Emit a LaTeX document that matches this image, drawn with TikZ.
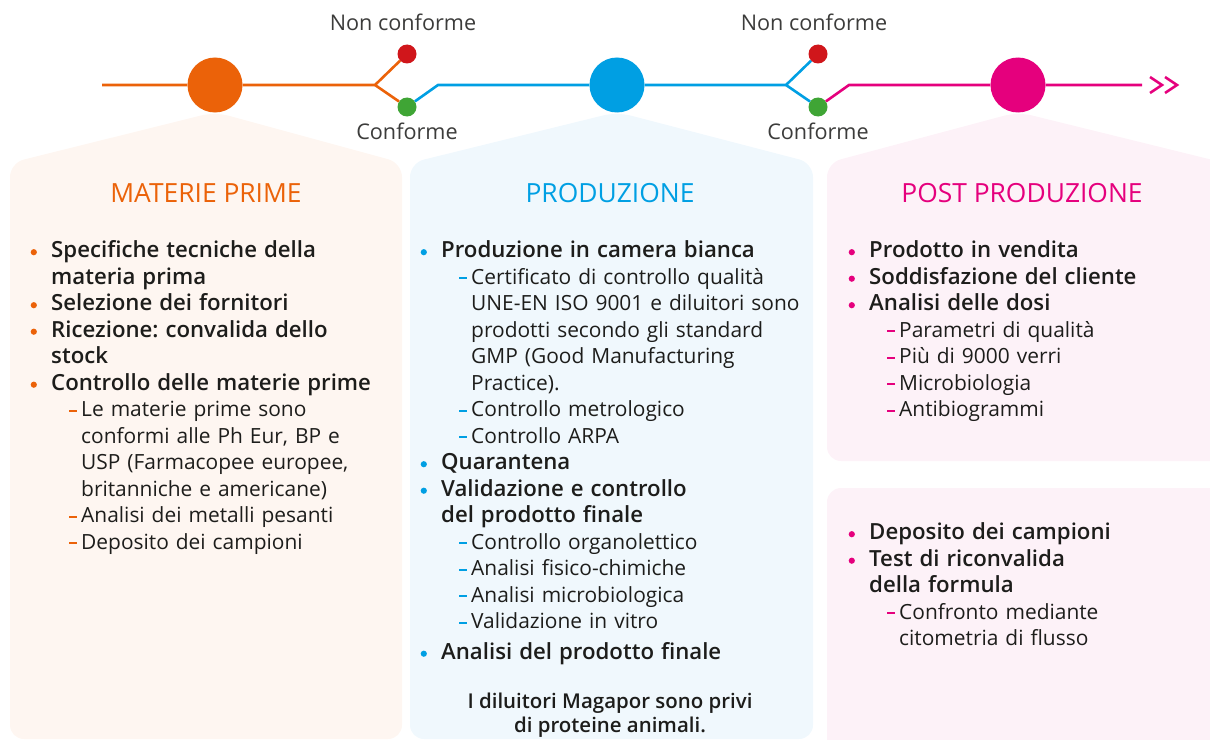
\documentclass[tikz,border=0pt]{standalone}
\usepackage{fontspec}
\setmainfont{Open Sans}
\IfFontExistsTF{Open Sans SemiBold}{\newfontfamily\semib{Open Sans SemiBold}}{%
  \IfFontExistsTF{Open Sans Semibold}{\newfontfamily\semib{Open Sans Semibold}}{\newcommand{\semib}{\bfseries}}}
\usetikzlibrary{positioning}
\frenchspacing
\definecolor{orangeMP}{HTML}{EB6209}
\definecolor{bluePR}{HTML}{009FE3}
\definecolor{pinkPP}{HTML}{E5007D}
\definecolor{redKO}{HTML}{D0161B}
\definecolor{greenOK}{HTML}{3FA535}
\definecolor{bgMP}{HTML}{FEF6F1}
\definecolor{bgPR}{HTML}{F0F8FD}
\definecolor{bgPP}{HTML}{FDF2F8}
\definecolor{txt}{HTML}{1D1D1B}
\definecolor{lbltxt}{HTML}{3C3C3B}
% bullet item and dash item
\newcommand{\bulitm}[2]{\par\noindent\hangindent=21bp\hangafter=1\makebox[21bp][l]{\hspace*{0.5bp}\tikz[baseline=0]\fill[#1] (3bp,5.5bp) circle (3.1bp);}{\fontsize{22.3}{26.6}\selectfont\semib#2}}
\newcommand{\subitm}[2]{\par\noindent\hangindent=51bp\hangafter=1\hspace*{39bp}\makebox[12bp][l]{\textcolor{#1}{\rule[5.2bp]{8bp}{2bp}}}#2}
% panel with a roof under the stage circle
\newcommand{\drawpanel}[5]{\fill[#1, rounded corners=14bp] (#2,#5) -- (#2,163) -- (#3,112) -- (#4,163) -- (#4,#5) -- cycle;}
\tikzset{
  stage/.style={circle, fill=#1, inner sep=0, minimum size=55bp},
  dot/.style={circle, fill=#1, inner sep=0, minimum size=19bp},
  line/.style={draw=#1, line width=2.6bp},
  lbl/.style={inner sep=0, text=lbltxt, font=\fontsize{21.7}{25}\selectfont},
  title/.style={inner sep=0, text=#1, font=\fontsize{26.5}{30}\selectfont},
  list/.style={anchor=north west, inner sep=0, text width=#1, align=left, text=txt, font=\fontsize{21}{26.6}\selectfont}
}
\begin{document}
\begin{tikzpicture}[x=1bp, y=-1bp]
\useasboundingbox (0,0) rectangle (1210,740);

% panels
\drawpanel{bgMP}{10}{215}{402}{739}
\drawpanel{bgPR}{410}{617}{813}{739}
\drawpanel{bgPP}{827}{1018}{1225}{461}
\fill[bgPP, rounded corners=14bp] (827,488) rectangle (1225,760);

% timeline
\node[stage=orangeMP] (m1) at (215,85) {};
\node[stage=bluePR] (m2) at (617,85) {};
\node[stage=pinkPP] (m3) at (1018,85) {};
\node[dot=redKO] (ko1) at (407,54) {};
\node[dot=greenOK] (ok1) at (407,107) {};
\node[dot=redKO] (ko2) at (818,54) {};
\node[dot=greenOK] (ok2) at (818,107) {};
\coordinate (start) at (102,85);
\coordinate (fork1) at (375,85);
\coordinate (bend1) at (438,85);
\coordinate (fork2) at (786,85);
\coordinate (bend2) at (849,85);
\coordinate (end) at (1142,85);

\draw[line=orangeMP] (start) -- (m1) -- (fork1) -- (ko1);
\draw[line=orangeMP] (fork1) -- (ok1);
\draw[line=bluePR] (ok1) -- (bend1) -- (m2) -- (fork2) -- (ko2);
\draw[line=bluePR] (fork2) -- (ok2);
\draw[line=pinkPP] (ok2) -- (bend2) -- (m3) -- (end);
\draw[line=pinkPP] (1150,77) -- (1162,85) -- (1150,93);
\draw[line=pinkPP] (1165,77) -- (1177,85) -- (1165,93);

\node[lbl, above=13bp of ko1, xshift=-4bp] (nc1) {Non conforme};
\node[lbl, below=6bp of ok1] (c1) {Conforme};
\node[lbl, above=13bp of ko2, xshift=-4bp] (nc2) {Non conforme};
\node[lbl, below=6bp of ok2] (c2) {Conforme};

% titles
\node[title=orangeMP] (t1) at (206,193) {MATERIE PRIME};
\node[title=bluePR] (t2) at (610,193) {PRODUZIONE};
\node[title=pinkPP] (t3) at (1022,193) {POST PRODUZIONE};

% lists
\node[list=370bp] (l1) at (30,231) {%
\bulitm{orangeMP}{Specifiche tecniche della\newline materia prima}
\bulitm{orangeMP}{Selezione dei fornitori}
\bulitm{orangeMP}{Ricezione: convalida dello\newline stock}
\bulitm{orangeMP}{Controllo delle materie prime}
\subitm{orangeMP}{Le materie prime sono\newline conformi alle Ph Eur, BP e\newline USP (Farmacopee europee,\newline britanniche e americane)}
\subitm{orangeMP}{Analisi dei metalli pesanti}
\subitm{orangeMP}{Deposito dei campioni}\par};

\node[list=390bp] (l2) at (420,231) {%
\bulitm{bluePR}{Produzione in camera bianca}
\subitm{bluePR}{Certificato di controllo qualità\newline UNE-EN ISO 9001 e diluitori sono\newline prodotti secondo gli standard\newline GMP (Good Manufacturing\newline Practice).}
\subitm{bluePR}{Controllo metrologico}
\subitm{bluePR}{Controllo ARPA}
\bulitm{bluePR}{Quarantena}
\bulitm{bluePR}{Validazione e controllo\newline del prodotto finale}
\subitm{bluePR}{Controllo organolettico}
\subitm{bluePR}{Analisi fisico-chimiche}
\subitm{bluePR}{Analisi microbiologica}
\subitm{bluePR}{Validazione in vitro}
\par\vspace{4bp}
\bulitm{bluePR}{Analisi del prodotto finale}\par};

\node[inner sep=0, align=center, text=txt, font=\fontsize{20.5}{24}\selectfont\semib] (note) at (610,715) {I diluitori Magapor sono privi\\di proteine animali.};

\node[list=350bp] (l3) at (848,231) {%
\bulitm{pinkPP}{Prodotto in vendita}
\bulitm{pinkPP}{Soddisfazione del cliente}
\bulitm{pinkPP}{Analisi delle dosi}
\subitm{pinkPP}{Parametri di qualità}
\subitm{pinkPP}{Più di 9000 verri}
\subitm{pinkPP}{Microbiologia}
\subitm{pinkPP}{Antibiogrammi}\par};

\node[list=350bp] (l4) at (848,513) {%
\bulitm{pinkPP}{Deposito dei campioni}
\bulitm{pinkPP}{Test di riconvalida\newline della formula}
\subitm{pinkPP}{Confronto mediante\newline citometria di flusso}\par};
\end{tikzpicture}
\end{document}
